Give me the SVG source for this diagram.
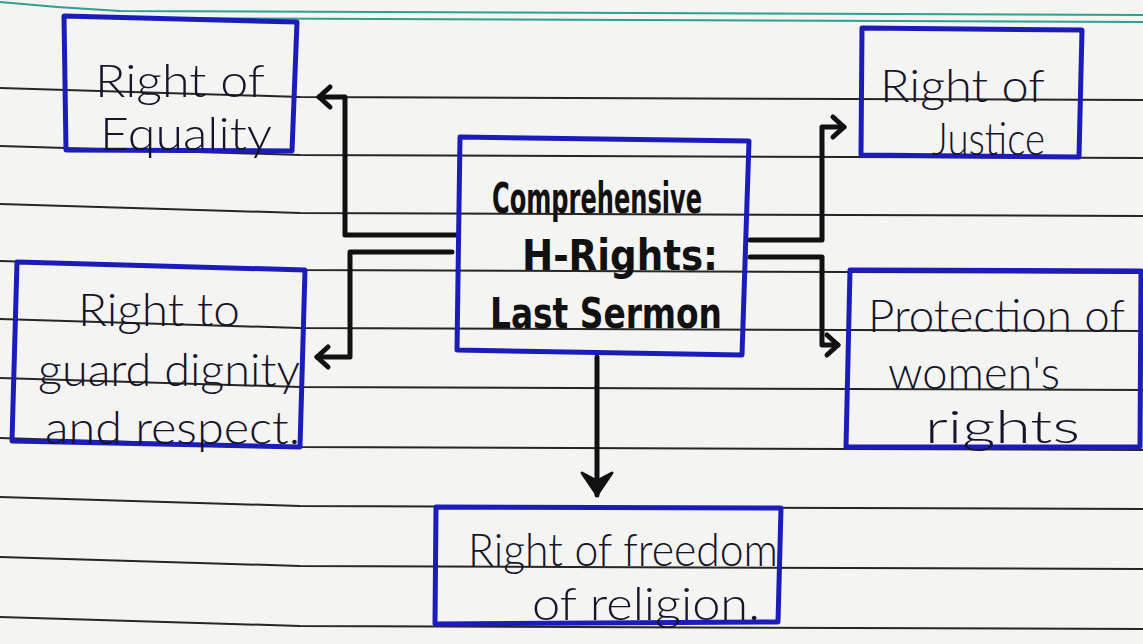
<svg xmlns="http://www.w3.org/2000/svg" width="1143" height="644" viewBox="0 0 1143 644">
<defs>
<style>
.rule{fill:none;stroke:#262626;stroke-width:2}
.teal{fill:none;stroke:#2f9e93;stroke-width:2}
.box{fill:none;stroke:#1c1cb8;stroke-width:5;stroke-linejoin:round}
.hand{font-family:"Lato","DejaVu Sans",sans-serif;font-weight:300;font-size:46px;fill:#14142a}
.bold{font-family:"DejaVu Sans Condensed","DejaVu Sans",sans-serif;font-weight:bold;font-size:42px;fill:#111}
.conn{fill:none;stroke:#111;stroke-width:5;stroke-linejoin:round;stroke-linecap:round}
</style>
<marker id="open" markerUnits="userSpaceOnUse" markerWidth="30" markerHeight="30" viewBox="-15 -15 30 30" refX="0" refY="0" orient="auto" overflow="visible">
<path d="M-11,-10 L0,0 L-11,10" fill="none" stroke="#111" stroke-width="5" stroke-linecap="round" stroke-linejoin="round"/>
</marker>
<marker id="solid" markerUnits="userSpaceOnUse" markerWidth="40" markerHeight="40" viewBox="-25 -20 30 40" refX="0" refY="0" orient="auto" overflow="visible">
<path d="M-22,-15 L0,0 L-22,15 L-14,0 Z" fill="#111" stroke="#111" stroke-width="3" stroke-linejoin="round"/>
</marker>
</defs>
<rect width="1143" height="644" fill="#f4f4f2"/>
<g id="paper">
<path class="teal" d="M0,2 Q60,8 120,11 L1143,15"/>
<path class="teal" d="M140,18 L1143,22"/>
<path class="rule" d="M0,88 L300,97 L1143,100"/>
<path class="rule" d="M0,146 L300,155 L1143,158"/>
<path class="rule" d="M0,204 L300,213 L1143,216"/>
<path class="rule" d="M0,261 L300,270 L1143,273"/>
<path class="rule" d="M0,319 L300,328 L1143,331"/>
<path class="rule" d="M0,378 L300,387 L1143,390"/>
<path class="rule" d="M0,438 L300,447 L1143,450"/>
<path class="rule" d="M0,497 L300,506 L1143,509"/>
<path class="rule" d="M0,557 L300,566 L1143,569"/>
<path class="rule" d="M0,617 L300,626 L1143,629"/>
</g>
<g id="connectors">
<path class="conn" d="M457,235 H345 V97 H319" marker-end="url(#open)"/>
<path class="conn" d="M452,252 H350 V357 H317" marker-end="url(#open)"/>
<path class="conn" d="M750,240 H822 V127 H844" marker-end="url(#open)"/>
<path class="conn" d="M750,257 H822 V345 H838" marker-end="url(#open)"/>
<path class="conn" d="M597,357 V495" marker-end="url(#solid)"/>
</g>
<g id="node-equality">
<path class="box" d="M64,16 L297,22 L292,151 L66,150 Z"/>
<text class="hand" x="95" y="97" textLength="170" lengthAdjust="spacingAndGlyphs">Right of</text>
<text class="hand" x="100" y="150" textLength="172" lengthAdjust="spacingAndGlyphs">Equality</text>
</g>
<g id="node-justice">
<path class="box" d="M862,28 L1082,30 L1079,157 L861,155 Z"/>
<text class="hand" x="880" y="102" textLength="165" lengthAdjust="spacingAndGlyphs">Right of</text>
<text class="hand" x="932" y="155" textLength="113" lengthAdjust="spacingAndGlyphs">Justice</text>
</g>
<g id="node-center">
<path class="box" d="M460,137 L749,141 L742,355 L457,350 Z"/>
<text class="bold" x="492" y="213" textLength="210" lengthAdjust="spacingAndGlyphs">Comprehensive</text>
<text class="bold" x="522" y="270" textLength="196" lengthAdjust="spacingAndGlyphs">H-Rights:</text>
<text class="bold" x="490" y="328" textLength="232" lengthAdjust="spacingAndGlyphs">Last Sermon</text>
</g>
<g id="node-dignity">
<path class="box" d="M17,262 L305,270 L300,447 L12,441 Z"/>
<text class="hand" x="78" y="326" textLength="162" lengthAdjust="spacingAndGlyphs">Right to</text>
<text class="hand" x="38" y="386" textLength="262" lengthAdjust="spacingAndGlyphs">guard dignity</text>
<text class="hand" x="45" y="444" textLength="255" lengthAdjust="spacingAndGlyphs">and respect.</text>
</g>
<g id="node-women">
<path class="box" d="M850,270 L1141,271 L1140,447 L846,447 Z"/>
<text class="hand" x="868" y="332" textLength="257" lengthAdjust="spacingAndGlyphs">Protection of</text>
<text class="hand" x="888" y="389" textLength="172" lengthAdjust="spacingAndGlyphs">women's</text>
<text class="hand" x="925" y="443" textLength="155" lengthAdjust="spacingAndGlyphs">rights</text>
</g>
<g id="node-religion">
<path class="box" d="M436,507 L781,508 L778,622 L435,624 Z"/>
<text class="hand" x="468" y="566" textLength="310" lengthAdjust="spacingAndGlyphs">Right of freedom</text>
<text class="hand" x="532" y="620" textLength="228" lengthAdjust="spacingAndGlyphs">of religion.</text>
</g>
</svg>
